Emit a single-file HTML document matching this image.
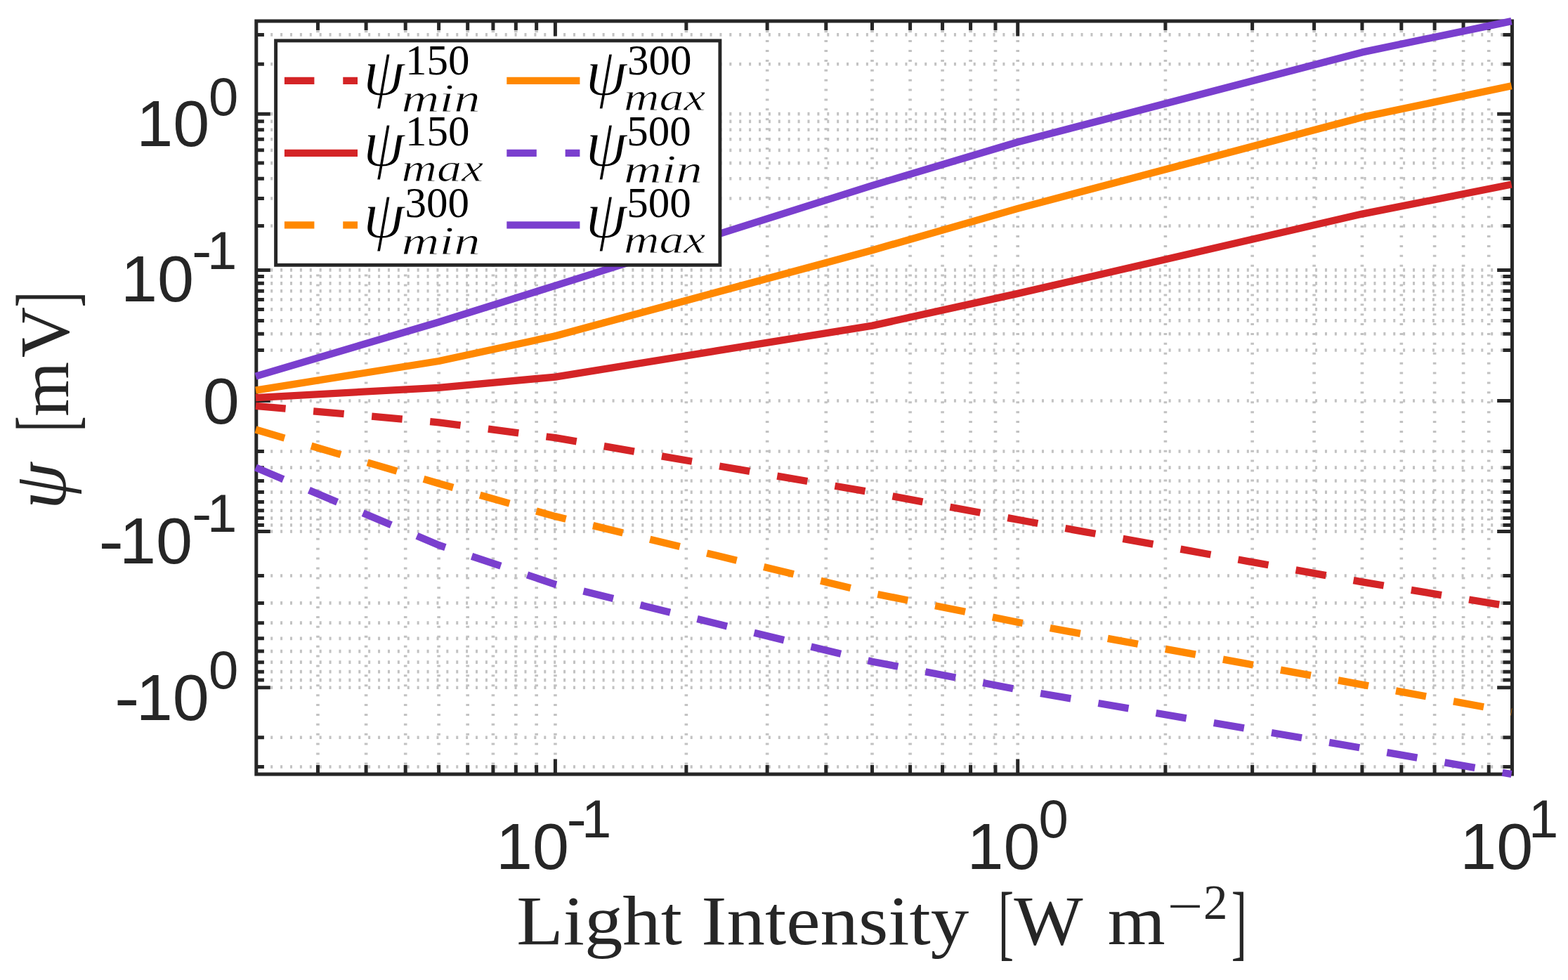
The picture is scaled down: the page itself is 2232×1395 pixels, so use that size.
<!DOCTYPE html><html><head><meta charset="utf-8"><title>psi vs light intensity</title>
<style>html,body{margin:0;padding:0;background:#fff;overflow:hidden;}svg{display:block;}.s{font-family:"Liberation Sans",sans-serif;fill:#262626;}.r{font-family:"Liberation Serif",serif;}.i{font-style:italic;}</style></head><body>
<svg width="2232" height="1395" viewBox="0 0 2232 1395">
<rect x="0" y="0" width="2232" height="1395" fill="#fff"/>
<g id="grid">
<path d="M385.20 162.15H2139.45M385.20 384.40H2139.45M385.20 570.48H2139.45M385.20 756.56H2139.45M385.20 978.81H2139.45M385.20 498.49H2139.45M385.20 475.32H2139.45M385.20 456.39H2139.45M385.20 440.38H2139.45M385.20 426.51H2139.45M385.20 414.28H2139.45M385.20 403.34H2139.45M385.20 393.44H2139.45M385.20 321.45H2139.45M385.20 282.54H2139.45M385.20 254.30H2139.45M385.20 232.12H2139.45M385.20 213.85H2139.45M385.20 198.32H2139.45M385.20 184.81H2139.45M385.20 172.86H2139.45M385.20 91.19H2139.45M385.20 49.42H2139.45M385.20 642.47H2139.45M385.20 665.64H2139.45M385.20 684.57H2139.45M385.20 700.58H2139.45M385.20 714.45H2139.45M385.20 726.68H2139.45M385.20 737.62H2139.45M385.20 747.52H2139.45M385.20 819.51H2139.45M385.20 858.42H2139.45M385.20 886.66H2139.45M385.20 908.84H2139.45M385.20 927.11H2139.45M385.20 942.64H2139.45M385.20 956.15H2139.45M385.20 968.10H2139.45M385.20 1049.77H2139.45M385.20 1091.54H2139.45" stroke="#c2c2c2" stroke-width="4.6" stroke-dasharray="3.0 10.896" fill="none"/>
<path d="M790.41 43.20V1088.75M1448.73 43.20V1088.75M452.46 43.20V1088.75M521.10 43.20V1088.75M577.19 43.20V1088.75M624.61 43.20V1088.75M665.69 43.20V1088.75M701.92 43.20V1088.75M734.33 43.20V1088.75M763.65 43.20V1088.75M976.87 43.20V1088.75M1092.13 43.20V1088.75M1175.78 43.20V1088.75M1241.48 43.20V1088.75M1295.59 43.20V1088.75M1341.58 43.20V1088.75M1381.59 43.20V1088.75M1416.99 43.20V1088.75M1658.92 43.20V1088.75M1782.63 43.20V1088.75M1870.62 43.20V1088.75M1938.95 43.20V1088.75M1994.83 43.20V1088.75M2042.11 43.20V1088.75M2083.07 43.20V1088.75M2119.22 43.20V1088.75" stroke="#c2c2c2" stroke-width="4.6" stroke-dasharray="3.0 10.896" fill="none"/>
</g>
<path id="ticks" d="M364.80 162.15h20.0M2152.45 162.15h-21.3M364.80 384.40h20.0M2152.45 384.40h-21.3M364.80 570.48h20.0M2152.45 570.48h-21.3M364.80 756.56h20.0M2152.45 756.56h-21.3M364.80 978.81h20.0M2152.45 978.81h-21.3M364.80 498.49h11.1M2152.45 498.49h-13.1M364.80 475.32h11.1M2152.45 475.32h-13.1M364.80 456.39h11.1M2152.45 456.39h-13.1M364.80 440.38h11.1M2152.45 440.38h-13.1M364.80 426.51h11.1M2152.45 426.51h-13.1M364.80 414.28h11.1M2152.45 414.28h-13.1M364.80 403.34h11.1M2152.45 403.34h-13.1M364.80 393.44h11.1M2152.45 393.44h-13.1M364.80 321.45h11.1M2152.45 321.45h-13.1M364.80 282.54h11.1M2152.45 282.54h-13.1M364.80 254.30h11.1M2152.45 254.30h-13.1M364.80 232.12h11.1M2152.45 232.12h-13.1M364.80 213.85h11.1M2152.45 213.85h-13.1M364.80 198.32h11.1M2152.45 198.32h-13.1M364.80 184.81h11.1M2152.45 184.81h-13.1M364.80 172.86h11.1M2152.45 172.86h-13.1M364.80 91.19h11.1M2152.45 91.19h-13.1M364.80 49.42h11.1M2152.45 49.42h-13.1M364.80 642.47h11.1M2152.45 642.47h-13.1M364.80 665.64h11.1M2152.45 665.64h-13.1M364.80 684.57h11.1M2152.45 684.57h-13.1M364.80 700.58h11.1M2152.45 700.58h-13.1M364.80 714.45h11.1M2152.45 714.45h-13.1M364.80 726.68h11.1M2152.45 726.68h-13.1M364.80 737.62h11.1M2152.45 737.62h-13.1M364.80 747.52h11.1M2152.45 747.52h-13.1M364.80 819.51h11.1M2152.45 819.51h-13.1M364.80 858.42h11.1M2152.45 858.42h-13.1M364.80 886.66h11.1M2152.45 886.66h-13.1M364.80 908.84h11.1M2152.45 908.84h-13.1M364.80 927.11h11.1M2152.45 927.11h-13.1M364.80 942.64h11.1M2152.45 942.64h-13.1M364.80 956.15h11.1M2152.45 956.15h-13.1M364.80 968.10h11.1M2152.45 968.10h-13.1M364.80 1049.77h11.1M2152.45 1049.77h-13.1M364.80 1091.54h11.1M2152.45 1091.54h-13.1M790.41 1102.05v-21.6M790.41 30.00v21.6M1448.73 1102.05v-21.6M1448.73 30.00v21.6M452.46 1102.05v-13.0M452.46 30.00v13.0M521.10 1102.05v-13.0M521.10 30.00v13.0M577.19 1102.05v-13.0M577.19 30.00v13.0M624.61 1102.05v-13.0M624.61 30.00v13.0M665.69 1102.05v-13.0M665.69 30.00v13.0M701.92 1102.05v-13.0M701.92 30.00v13.0M734.33 1102.05v-13.0M734.33 30.00v13.0M763.65 1102.05v-13.0M763.65 30.00v13.0M976.87 1102.05v-13.0M976.87 30.00v13.0M1092.13 1102.05v-13.0M1092.13 30.00v13.0M1175.78 1102.05v-13.0M1175.78 30.00v13.0M1241.48 1102.05v-13.0M1241.48 30.00v13.0M1295.59 1102.05v-13.0M1295.59 30.00v13.0M1341.58 1102.05v-13.0M1341.58 30.00v13.0M1381.59 1102.05v-13.0M1381.59 30.00v13.0M1416.99 1102.05v-13.0M1416.99 30.00v13.0M1658.92 1102.05v-13.0M1658.92 30.00v13.0M1782.63 1102.05v-13.0M1782.63 30.00v13.0M1870.62 1102.05v-13.0M1870.62 30.00v13.0M1938.95 1102.05v-13.0M1938.95 30.00v13.0M1994.83 1102.05v-13.0M1994.83 30.00v13.0M2042.11 1102.05v-13.0M2042.11 30.00v13.0M2083.07 1102.05v-13.0M2083.07 30.00v13.0M2119.22 1102.05v-13.0M2119.22 30.00v13.0" stroke="#262626" stroke-width="5.0" fill="none"/>
<rect x="364.8" y="30.0" width="1787.65" height="1072.05" fill="none" stroke="#262626" stroke-width="5.0"/>
<g id="curves" fill="none" stroke-linejoin="round">
<path d="M363.97 535.60 L624.61 458.50 L790.41 406.60 L1241.48 264.10 L1448.73 202.30 L1938.95 74.40 L2151.56 30.10" stroke="#7a3fce" stroke-width="10.3"/>
<path d="M363.97 555.70 L624.61 514.00 L790.41 478.20 L1241.48 356.20 L1448.73 296.90 L1938.95 166.90 L2151.56 122.30" stroke="#ff8800" stroke-width="10.3"/>
<path d="M363.97 566.10 L624.61 551.80 L790.41 536.60 L1241.48 463.60 L1448.73 417.90 L1938.95 304.60 L2151.56 262.50" stroke="#d42426" stroke-width="10.3"/>
<path d="M363.97 577.90 L624.61 601.30 L790.41 623.20 L1241.48 700.90 L1448.73 739.80 L1938.95 828.40 L2151.56 863.50" stroke="#d42426" stroke-width="10.3" stroke-dasharray="43.7 39.67" stroke-dashoffset="0.9"/>
<path d="M363.97 611.50 L624.61 688.20 L790.41 735.10 L1241.48 844.40 L1448.73 885.70 L1938.95 974.60 L2151.56 1013.50" stroke="#ff8800" stroke-width="10.3" stroke-dasharray="43.7 39.67" stroke-dashoffset="0.9"/>
<path d="M363.97 665.50 L624.61 776.00 L790.41 831.80 L1241.48 941.70 L1448.73 981.50 L1938.95 1064.90 L2151.56 1102.00" stroke="#7a3fce" stroke-width="10.3" stroke-dasharray="43.7 39.67" stroke-dashoffset="0.9"/>
</g>
<text class="s" x="194.2" y="208.1" font-size="93.5">10</text>
<text class="s" x="296.9" y="164.0" font-size="76">0</text>
<text class="s" x="172.1" y="428.6" font-size="93.5">10</text>
<text class="s" x="273.0" y="383.4" font-size="76" textLength="28.4" lengthAdjust="spacingAndGlyphs">-</text>
<text class="s" x="294.9" y="383.4" font-size="76">1</text>
<text class="s" x="288.7" y="602.6" font-size="93.5">0</text>
<text class="s" x="140.3" y="802.4" font-size="93.5" textLength="35.9" lengthAdjust="spacingAndGlyphs">-</text>
<text class="s" x="170.0" y="802.4" font-size="93.5">10</text>
<text class="s" x="273.0" y="757.2" font-size="76" textLength="28.4" lengthAdjust="spacingAndGlyphs">-</text>
<text class="s" x="294.9" y="757.2" font-size="76">1</text>
<text class="s" x="162.8" y="1024.5" font-size="93.5" textLength="35.9" lengthAdjust="spacingAndGlyphs">-</text>
<text class="s" x="193.7" y="1024.5" font-size="93.5">10</text>
<text class="s" x="296.9" y="979.9" font-size="76">0</text>
<text class="s" x="706.1" y="1236.9" font-size="93.5">10</text>
<text class="s" x="806.6" y="1191.8" font-size="76" textLength="28.4" lengthAdjust="spacingAndGlyphs">-</text>
<text class="s" x="828.1" y="1191.8" font-size="76">1</text>
<text class="s" x="1376.6" y="1236.9" font-size="93.5">10</text>
<text class="s" x="1478.4" y="1191.8" font-size="76">0</text>
<text class="s" x="2078.2" y="1236.9" font-size="93.5">10</text>
<text class="s" x="2176.1" y="1191.8" font-size="76">1</text>
<text class="r" x="735.2" y="1344.4" font-size="100" fill="#262626" textLength="644" lengthAdjust="spacingAndGlyphs">Light Intensity</text>
<text class="r" transform="translate(1420.9 1352.4) scale(0.56 1)" x="0" y="0" font-size="118.5" fill="#262626">[</text>
<text class="r" x="1443.2" y="1344.4" font-size="100" fill="#262626" textLength="98.4" lengthAdjust="spacingAndGlyphs">W</text>
<text class="r" x="1576.8" y="1344.4" font-size="100" fill="#262626" textLength="82" lengthAdjust="spacingAndGlyphs">m</text>
<text class="r" x="1661.9" y="1313.2" font-size="69" fill="#262626" textLength="50.6" lengthAdjust="spacingAndGlyphs">−</text>
<text class="r" x="1713.1" y="1307.8" font-size="69" fill="#262626">2</text>
<text class="r" transform="translate(1752.7 1352.4) scale(0.56 1)" x="0" y="0" font-size="118.5" fill="#262626">]</text>
<g transform="translate(97.2 718.6) rotate(-90)">
<text class="r i" x="-6.4" y="-4.0" font-size="107" fill="#262626">ψ</text>
<text class="r" transform="translate(104.2 7.3) scale(0.56 1)" x="0" y="0" font-size="118.5" fill="#262626">[</text>
<text class="r" x="125.9" y="0.0" font-size="100" fill="#262626">m</text>
<text class="r" x="209.6" y="0.0" font-size="100" fill="#262626">V</text>
<text class="r" transform="translate(281.2 7.3) scale(0.56 1)" x="0" y="0" font-size="118.5" fill="#262626">]</text>
</g>
<rect x="392.6" y="57.9" width="632.3" height="319.4" fill="#fff" stroke="#262626" stroke-width="4.9"/>
<path d="M404.9 114.9H509.0" stroke="#d42426" stroke-width="10.3" fill="none" stroke-dasharray="42.5 40.85"/>
<text class="r i" x="517.1" y="134.9" font-size="95" fill="#000" stroke="#fff" stroke-width="1.2">ψ</text>
<text class="r" x="577.1" y="105.8" font-size="61" fill="#000">150</text>
<text class="r i" x="571.5" y="158.8" font-size="57" fill="#000" stroke="#fff" stroke-width="0.8" textLength="112" lengthAdjust="spacingAndGlyphs">min</text>
<path d="M404.9 217.8H509.0" stroke="#d42426" stroke-width="10.3" fill="none"/>
<text class="r i" x="517.1" y="235.6" font-size="95" fill="#000" stroke="#fff" stroke-width="1.2">ψ</text>
<text class="r" x="577.1" y="206.5" font-size="61" fill="#000">150</text>
<text class="r i" x="571.5" y="257.7" font-size="57" fill="#000" stroke="#fff" stroke-width="0.8" textLength="116.5" lengthAdjust="spacingAndGlyphs">max</text>
<path d="M404.9 320.3H509.0" stroke="#ff8800" stroke-width="10.3" fill="none" stroke-dasharray="42.5 40.85"/>
<text class="r i" x="517.1" y="338.1" font-size="95" fill="#000" stroke="#fff" stroke-width="1.2">ψ</text>
<text class="r" x="576.5" y="309.0" font-size="61" fill="#000">300</text>
<text class="r i" x="571.5" y="362.0" font-size="57" fill="#000" stroke="#fff" stroke-width="0.8" textLength="112" lengthAdjust="spacingAndGlyphs">min</text>
<path d="M721.3 114.9H825.4" stroke="#ff8800" stroke-width="10.3" fill="none"/>
<text class="r i" x="833.5" y="134.9" font-size="95" fill="#000" stroke="#fff" stroke-width="1.2">ψ</text>
<text class="r" x="892.9" y="105.8" font-size="61" fill="#000">300</text>
<text class="r i" x="887.9" y="157.0" font-size="57" fill="#000" stroke="#fff" stroke-width="0.8" textLength="116.5" lengthAdjust="spacingAndGlyphs">max</text>
<path d="M721.3 217.8H825.4" stroke="#7a3fce" stroke-width="10.3" fill="none" stroke-dasharray="42.5 40.85"/>
<text class="r i" x="833.5" y="235.6" font-size="95" fill="#000" stroke="#fff" stroke-width="1.2">ψ</text>
<text class="r" x="892.3" y="206.5" font-size="61" fill="#000">500</text>
<text class="r i" x="887.9" y="259.5" font-size="57" fill="#000" stroke="#fff" stroke-width="0.8" textLength="112" lengthAdjust="spacingAndGlyphs">min</text>
<path d="M721.3 320.3H825.4" stroke="#7a3fce" stroke-width="10.3" fill="none"/>
<text class="r i" x="833.5" y="338.1" font-size="95" fill="#000" stroke="#fff" stroke-width="1.2">ψ</text>
<text class="r" x="892.3" y="309.0" font-size="61" fill="#000">500</text>
<text class="r i" x="887.9" y="360.2" font-size="57" fill="#000" stroke="#fff" stroke-width="0.8" textLength="116.5" lengthAdjust="spacingAndGlyphs">max</text>
</svg></body></html>
